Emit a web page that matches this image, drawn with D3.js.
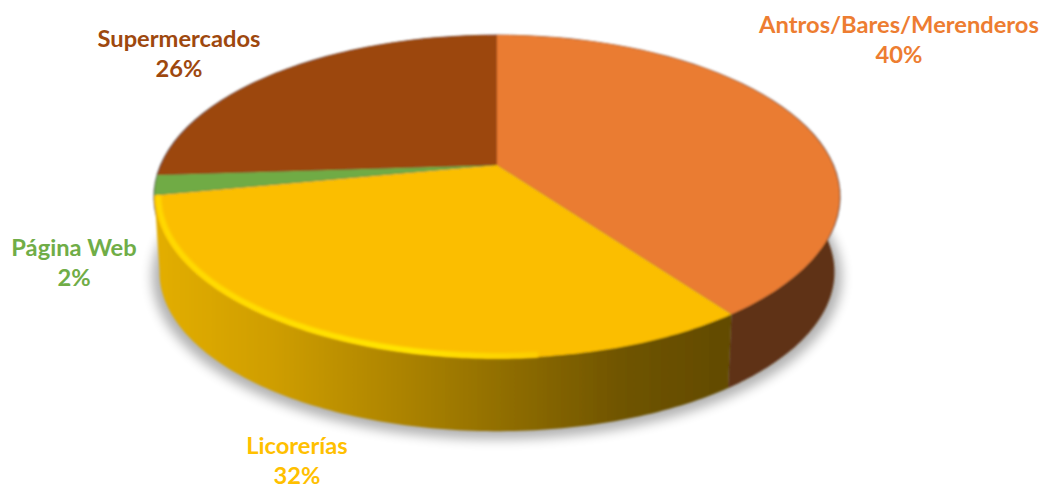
<!DOCTYPE html>
<html>
<head>
<meta charset="utf-8">
<script src="https://cdn.jsdelivr.net/npm/d3@7"></script>
<style>
html,body{margin:0;padding:0;background:#fff}
svg{display:block}
text{font-family:Lato,"Open Sans",sans-serif;font-weight:700;font-size:23.7px;text-anchor:middle}
</style>
</head>
<body>
<svg id="chart" width="1047" height="489"></svg>
<script>
// Sales channels and their share
const categories = ["Antros/Bares/Merenderos", "Licorerías", "Página Web", "Supermercados"];
const shares = [40, 32, 2, 26];
const topColors = ["#EA7B31", "#FBBE00", "#6FAB45", "#9C470B"];
const labelColors = ["#ED7D31", "#FFC000", "#70AD47", "#9E480E"];
const labelAnchors = [[899, 27], [297, 448], [74, 250], [179, 41]];

const svg = d3.select("#chart");
const defs = svg.append("defs");

// Tilted-disc projection: a unit circle seen from the front with foreshortening
const tilt = 0.195, radiusX = 336, radiusY = 155.4;
const project = (theta, r, o) => {
  const u = r * Math.sin(theta), v = -r * Math.cos(theta);
  const s = o.scale / (1 - tilt * v);
  return [o.cx + radiusX * u * s, o.cy + radiusY * v * s];
};
const topFace = {cx: 497, cy: 165, scale: 1};
const bottomFace = {cx: 497, cy: 241, scale: 0.985};

const arcs = d3.pie().sort(null).value(d => d)(shares);
const line = d3.line();
const sweep = (a0, a1, o) => d3.range(0, 121).map(i => project(a0 + (a1 - a0) * i / 120, 1, o));

const wedge = a => line([project(0, 0, topFace), ...sweep(a.startAngle, a.endAngle, topFace)]) + "Z";
// Wall visible only on the near half of the disc
const wall = (a0, a1) => line([...sweep(a0, a1, topFace), ...sweep(a1, a0, bottomFace)]) + "Z";

const soft = defs.append("filter").attr("id", "soft").attr("x", "-5%").attr("y", "-5%").attr("width", "110%").attr("height", "110%");
soft.append("feGaussianBlur").attr("stdDeviation", 0.9);
const shade = defs.append("filter").attr("id", "shade").attr("x", "-10%").attr("y", "-10%").attr("width", "120%").attr("height", "120%");
shade.append("feGaussianBlur").attr("stdDeviation", 6);
const glow = defs.append("filter").attr("id", "glow").attr("x", "-5%").attr("y", "-5%").attr("width", "110%").attr("height", "110%");
glow.append("feGaussianBlur").attr("stdDeviation", 1.4);

const yellowWall = defs.append("linearGradient").attr("id", "yellowWall").attr("gradientUnits", "userSpaceOnUse")
  .attr("x1", 155).attr("x2", 740).attr("y1", 0).attr("y2", 0);
[[0, "#e3ae00"], [0.2, "#cf9e00"], [0.5, "#a07a00"], [0.8, "#6f5400"], [1, "#614a00"]]
  .forEach(([o, c]) => yellowWall.append("stop").attr("offset", o).attr("stop-color", c));

const rim = defs.append("linearGradient").attr("id", "rim").attr("gradientUnits", "userSpaceOnUse")
  .attr("x1", 155).attr("x2", 620).attr("y1", 0).attr("y2", 0);
[[0, "#ffd800"], [0.55, "#ffe600"], [1, "#fbbe00"]]
  .forEach(([o, c]) => rim.append("stop").attr("offset", o).attr("stop-color", c));

// Soft drop shadow around the disc walls
svg.append("path")
  .attr("d", line(sweep(0, 2 * Math.PI, {...bottomFace, cy: bottomFace.cy + 4, scale: bottomFace.scale * 1.022})) + "Z")
  .attr("fill", "#000").attr("opacity", 0.3).attr("filter", "url(#shade)");

const pie = svg.append("g").attr("filter", "url(#soft)");

// Thin dark outline of the disc's far edge
pie.append("path")
  .attr("d", line(sweep(0, 2 * Math.PI, {...topFace, scale: 1.003})) + "Z")
  .attr("fill", "#555");

// Walls: Licorerías and Antros portions of the near edge
const [orange, yellow] = arcs;
pie.append("path").attr("d", wall(Math.PI * 0.42, orange.endAngle)).attr("fill", "#5f3112");
pie.append("path").attr("d", wall(yellow.startAngle, yellow.endAngle)).attr("fill", "url(#yellowWall)");

// Top faces
pie.selectAll("path.slice").data(arcs).join("path")
  .attr("class", "slice")
  .attr("d", wedge)
  .attr("fill", (d, i) => topColors[i]);

// Bright lip along the front-left of the yellow slice
svg.append("path")
  .attr("d", line(sweep(yellow.endAngle - 0.005, Math.PI - 0.1, {...topFace, scale: 0.988})))
  .attr("fill", "none").attr("stroke", "url(#rim)").attr("stroke-width", 5.5)
  .attr("filter", "url(#glow)");

// Category and percentage labels
const labels = svg.selectAll("text").data(categories).join("text")
  .attr("fill", (d, i) => labelColors[i]);
labels.append("tspan").attr("x", (d, i) => labelAnchors[i][0]).attr("y", (d, i) => labelAnchors[i][1] + 6).text(d => d);
labels.append("tspan").attr("x", (d, i) => labelAnchors[i][0]).attr("dy", 30).text((d, i) => shares[i] + "%");
</script>
</body>
</html>
